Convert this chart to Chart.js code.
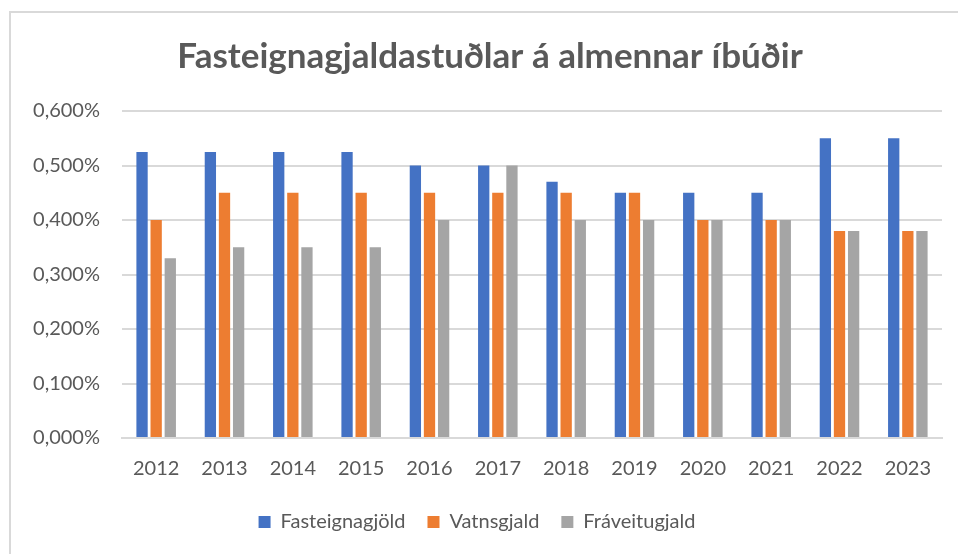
<!DOCTYPE html>
<html>
<head>
<meta charset="utf-8">
<script src="https://cdn.jsdelivr.net/npm/chart.js@4/dist/chart.umd.min.js"></script>
<style>
  html, body { margin: 0; padding: 0; background: #fff; }
  #wrap { position: relative; width: 958px; height: 554px; }
  #frame { position: absolute; left: 9px; top: 11px; right: 0; bottom: 0;
           border-left: 2px solid #d9d9d9; border-top: 2px solid #d9d9d9; pointer-events: none; }
  canvas { position: absolute; left: 0; top: 0; }
</style>
</head>
<body>
<div id="wrap">
  <canvas id="c" width="958" height="554"></canvas>
  <div id="frame"></div>
</div>
<script>
const years = ['2012','2013','2014','2015','2016','2017','2018','2019','2020','2021','2022','2023'];
const fasteignagjold = [0.525,0.525,0.525,0.525,0.50,0.50,0.47,0.45,0.45,0.45,0.55,0.55];
const vatnsgjald     = [0.40,0.45,0.45,0.45,0.45,0.45,0.45,0.45,0.40,0.40,0.38,0.38];
const fraveitugjald  = [0.33,0.35,0.35,0.35,0.40,0.50,0.40,0.40,0.40,0.40,0.38,0.38];
const seriesNames = ['Fasteignagjöld','Vatnsgjald','Fráveitugjald'];
const titleText = 'Fasteignagjaldastuðlar á almennar íbúðir';

const txt = '#595959';
const grid = '#d9d9d9';
const fontFam = 'Lato, "Open Sans", sans-serif';

// shift the title box so its centre sits where the reference title sits
const titleShift = {
  id: 'titleShift',
  afterLayout(chart) {
    const t = chart.titleBlock;
    if (t) { t.left += 13; t.right += 13; }
  }
};

new Chart(document.getElementById('c'), {
  type: 'bar',
  data: {
    labels: years,
    datasets: [
      { label: seriesNames[0], data: fasteignagjold, backgroundColor: '#4472c4' },
      { label: seriesNames[1], data: vatnsgjald, backgroundColor: '#ed7d31' },
      { label: seriesNames[2], data: fraveitugjald, backgroundColor: '#a5a5a5' }
    ]
  },
  plugins: [titleShift],
  options: {
    responsive: false,
    animation: false,
    layout: { padding: { left: 12, right: 16, top: 32, bottom: 12 } },
    datasets: { bar: { categoryPercentage: 0.62, barPercentage: 0.8 } },
    plugins: {
      title: {
        display: true, text: titleText, color: txt,
        font: { family: fontFam, size: 35, weight: 'bold', lineHeight: 1.2 },
        padding: { top: 4, bottom: 33 }
      },
      legend: {
        position: 'bottom',
        labels: { color: txt, boxWidth: 12, boxHeight: 12, padding: 22,
                  font: { family: fontFam, size: 20 } }
      },
      tooltip: { enabled: false }
    },
    scales: {
      x: {
        grid: { display: false },
        border: { color: grid, width: 2 },
        afterFit: s => { s.height = 52; },
        ticks: { color: txt, font: { family: fontFam, size: 20 }, padding: 11 }
      },
      y: {
        min: 0, max: 0.6,
        afterFit: s => { s.width = 110; },
        grid: { color: grid, lineWidth: 2, drawTicks: false },
        border: { display: false },
        ticks: { stepSize: 0.1, color: txt, padding: 22,
                 font: { family: fontFam, size: 20 },
                 callback: v => v.toFixed(3).replace('.', ',') + '%' }
      }
    }
  }
});
</script>
</body>
</html>
